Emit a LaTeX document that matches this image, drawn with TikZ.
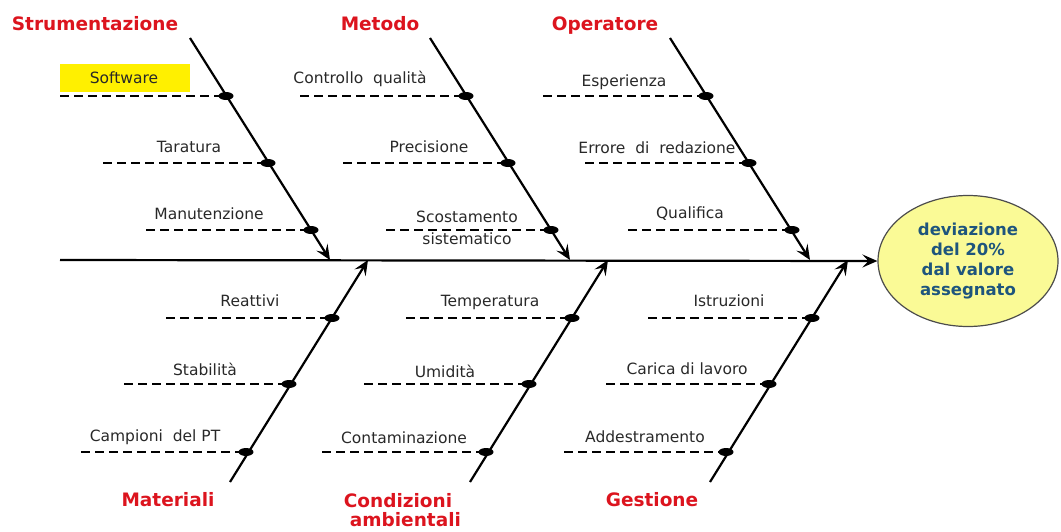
\documentclass[tikz,border=0pt]{standalone}
\usepackage{fontspec}
\setmainfont{DejaVu Sans}
\usetikzlibrary{arrows.meta,shapes.geometric}
\definecolor{catred}{RGB}{220,20,30}
\definecolor{effblue}{RGB}{30,85,125}
\definecolor{effill}{RGB}{250,250,150}
\definecolor{hilite}{RGB}{255,240,0}
\definecolor{txt}{RGB}{40,40,40}
\begin{document}
\begin{tikzpicture}[x=1pt,y=-1pt,
  bone/.style={line width=2.2pt,-{Stealth[length=15pt,width=13pt,inset=6pt]}},
  spine/.style={line width=2.2pt,-{Stealth[length=15pt,width=13pt,inset=6pt]}},
  dline/.style={line width=2.2pt,dash pattern=on 9pt off 5pt},
  dot/.style={ellipse,fill=black,minimum width=15pt,minimum height=8pt,inner sep=0pt},
  lab/.style={font=\fontsize{15.5}{18}\selectfont,text=txt,inner sep=1pt},
  cat/.style={font=\fontsize{18.5}{19}\selectfont\bfseries,text=catred,align=center,inner sep=0pt},
  effect/.style={ellipse,draw=black!70,line width=1.2pt,fill=effill,minimum width=180pt,minimum height=131pt,inner sep=0pt,
     align=center,text=effblue,font=\fontsize{16.5}{20}\selectfont\bfseries}]
\useasboundingbox (0,0) rectangle (1061,531);
% effect
\node[effect] (eff) at (968,261) {deviazione\\del 20\%\\dal valore\\assegnato};
\coordinate (sp) at (60,260);
\draw[spine] (sp) -- (eff.west);
% top bones
\coordinate (A1) at (190,38); \coordinate (A2) at (330,260);
\coordinate (B1) at (430,38); \coordinate (B2) at (570,260);
\coordinate (C1) at (670,38); \coordinate (C2) at (810,260);
\draw[bone] (A1) -- (A2);
\draw[bone] (B1) -- (B2);
\draw[bone] (C1) -- (C2);
% bottom bones
\coordinate (D1) at (230,482); \coordinate (D2) at (368,260);
\coordinate (E1) at (470,482); \coordinate (E2) at (608,260);
\coordinate (F1) at (710,482); \coordinate (F2) at (848,260);
\draw[bone] (D1) -- (D2);
\draw[bone] (E1) -- (E2);
\draw[bone] (F1) -- (F2);
% category labels
\node[cat] (cA) at (95,24) {Strumentazione};
\node[cat] (cB) at (380,24) {Metodo};
\node[cat] (cC) at (605,26) {Operatore};
\node[cat] (cD) at (168,500) {Materiali};
\node[cat,align=center] (cE) at (398,510) {Condizioni\\\hspace*{0.8em}ambientali};
\node[cat] (cF) at (652,500) {Gestione};
% highlight box
\node[fill=hilite,minimum width=130pt,minimum height=28pt,inner sep=0pt] (hl) at (125,78) {};
% dashed lines + dots
\foreach \n/\dx/\dy/\lx in {a1/226/96/60, a2/268/163/103, a3/311/230/146,
                           b1/466/96/300, b2/508/163/343, b3/551/230/386,
                           c1/706/96/543, c2/749/163/585, c3/792/230/628,
                           d1/332/318/166, d2/289/384/124, d3/246/452/81,
                           e1/572/318/406, e2/529/384/364, e3/486/452/322,
                           f1/812/318/648, f2/769/384/606, f3/726/452/564}{
  \coordinate (\n l) at (\lx,\dy);
  \node[dot] (\n) at (\dx,\dy) {};
  \draw[dline] (\n l) -- (\n.center);
}
% labels
\node[lab] (la1) at (124,78) {Software};
\node[lab] (la2) at (189,147) {Taratura};
\node[lab] (la3) at (209,214) {Manutenzione};
\node[lab] (lb1) at (360,79) {Controllo\ \ qualità};
\node[lab] (lb2) at (429,147) {Precisione};
\node[lab] (lb3a) at (467,217) {Scostamento};
\node[lab] (lb3b) at (467,239) {sistematico};
\node[lab] (lc1) at (624,82) {Esperienza};
\node[lab] (lc2) at (657,148) {Errore\ \ di\ \ redazione};
\node[lab] (lc3) at (690,214) {Qualifica};
\node[lab] (ld1) at (250,301) {Reattivi};
\node[lab] (ld2) at (205,369) {Stabilità};
\node[lab] (ld3) at (155,437) {Campioni\ \ del\ PT};
\node[lab] (le1) at (490,302) {Temperatura};
\node[lab] (le2) at (445,371) {Umidità};
\node[lab] (le3) at (404,438) {Contaminazione};
\node[lab] (lf1) at (729,301) {Istruzioni};
\node[lab] (lf2) at (687,369) {Carica\ di\ lavoro};
\node[lab] (lf3) at (645,437) {Addestramento};
\end{tikzpicture}
\end{document}
